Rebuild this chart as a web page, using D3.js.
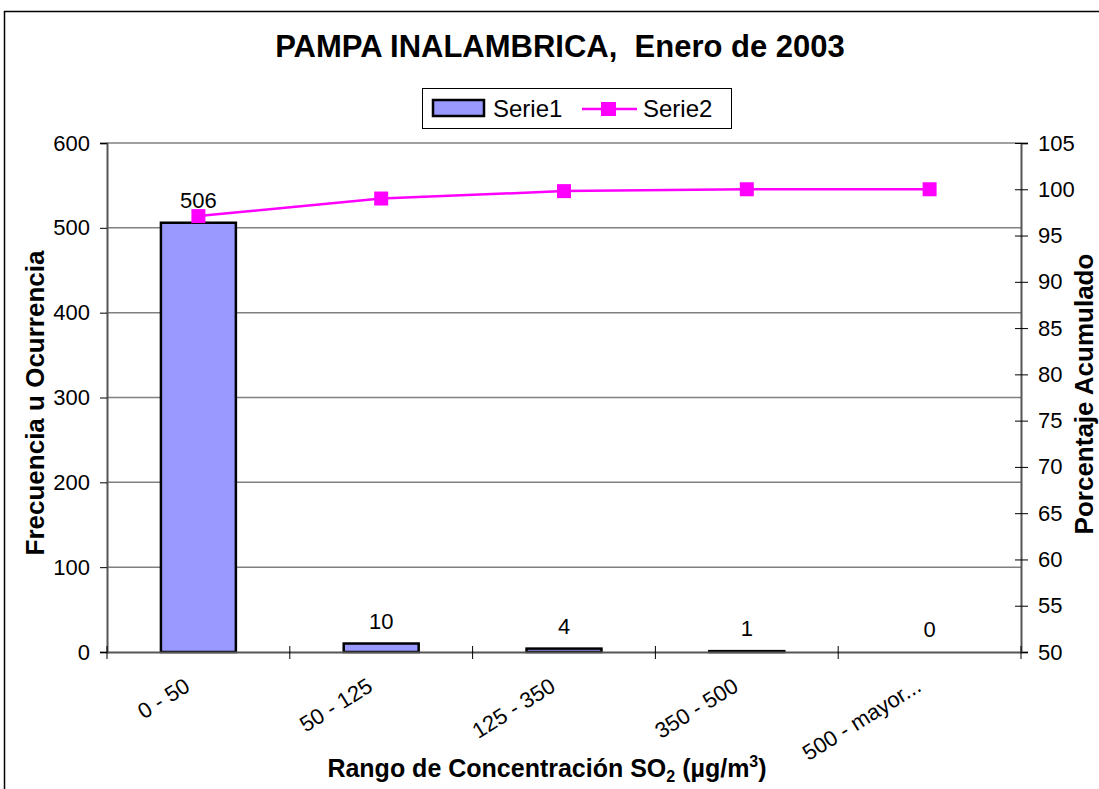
<!DOCTYPE html>
<html>
<head>
<meta charset="utf-8">
<script src="https://cdn.jsdelivr.net/npm/d3@7"></script>
<style>
  body { margin: 0; background: #fff; }
  text { font-family: "Liberation Sans", Arial, sans-serif; }
</style>
</head>
<body>
<svg width="1099" height="789"></svg>
<script>
// data
var categories = ["0 - 50", "50 - 125", "125 - 350", "350 - 500", "500 - mayor..."];
var serie1 = [506, 10, 4, 1, 0];
var serie2 = [97.1, 99.0, 99.8, 100, 100];
var leftTicks = [0, 100, 200, 300, 400, 500, 600];
var rightTicks = [50, 55, 60, 65, 70, 75, 80, 85, 90, 95, 100, 105];

var svg = d3.select("svg");

var margin = {left: 107, right: 1021, top: 143, bottom: 652};

// outer chart frame
svg.append("rect")
    .attr("x", 4.5).attr("y", 11.5)
    .attr("width", 1200).attr("height", 900)
    .attr("fill", "#fff")
    .attr("stroke", "#000")
    .attr("stroke-width", 1.5);

var x = d3.scaleBand()
    .domain(categories)
    .range([margin.left, margin.right]);

var yL = d3.scaleLinear().domain([0, 600]).range([margin.bottom, margin.top]);
var yR = d3.scaleLinear().domain([50, 105]).range([margin.bottom, margin.top]);

// gridlines
svg.append("g")
  .selectAll("line")
  .data(leftTicks.slice(1))
  .enter().append("line")
    .attr("x1", margin.left).attr("x2", margin.right)
    .attr("y1", function(d) { return yL(d); })
    .attr("y2", function(d) { return yL(d); })
    .attr("stroke", "#808080")
    .attr("stroke-width", 1.5);

// left axis
var gl = svg.append("g")
    .attr("transform", "translate(" + margin.left + ",0)")
    .call(d3.axisLeft(yL).tickValues(leftTicks).tickSize(7).tickPadding(10));
gl.select(".domain").attr("stroke", "#555").attr("stroke-width", 2);
gl.selectAll(".tick line").attr("stroke", "#000").attr("x2", -7);
gl.selectAll(".tick text").attr("font-size", 22).attr("fill", "#000");

// right axis
var gr = svg.append("g")
    .attr("transform", "translate(" + margin.right + ",0)")
    .call(d3.axisRight(yR).tickValues(rightTicks).tickSize(7).tickPadding(10));
gr.select(".domain").attr("stroke", "#555").attr("stroke-width", 2);
gr.selectAll(".tick line").attr("stroke", "#000").attr("x1", -6).attr("x2", 7);
gr.selectAll(".tick text").attr("font-size", 22).attr("fill", "#000");

// bars
var bw = x.bandwidth() * 0.41;
svg.append("g")
  .selectAll("rect")
  .data(serie1)
  .enter().append("rect")
    .attr("x", function(d, i) { return x(categories[i]) + x.bandwidth() / 2 - bw / 2; })
    .attr("y", function(d) { return yL(d); })
    .attr("width", bw)
    .attr("height", function(d) { return yL(0) - yL(d); })
    .attr("fill", "#9999ff")
    .attr("stroke", "#000")
    .attr("stroke-width", 2.5);

// bottom axis
var gb = svg.append("g")
    .attr("transform", "translate(0," + margin.bottom + ")")
    .call(d3.axisBottom(x).tickSize(0).tickFormat(""));
gb.select(".domain").attr("stroke", "#555").attr("stroke-width", 2);
gb.selectAll(".tick").remove();
svg.append("g")
  .selectAll("line")
  .data(categories.concat(["end"]))
  .enter().append("line")
    .attr("x1", function(d, i) { return margin.left + i * x.step(); })
    .attr("x2", function(d, i) { return margin.left + i * x.step(); })
    .attr("y1", margin.bottom - 6)
    .attr("y2", margin.bottom + 7)
    .attr("stroke", "#000");

// category labels, rotated
svg.append("g")
  .selectAll("text")
  .data(categories)
  .enter().append("text")
    .attr("transform", function(d) {
      return "translate(" + (x(d) + x.bandwidth() / 2 - 7) + ",690) rotate(-32)";
    })
    .attr("text-anchor", "end")
    .attr("font-size", 22)
    .text(function(d) { return d; });

// data labels
svg.append("g")
  .selectAll("text")
  .data(serie1)
  .enter().append("text")
    .attr("x", function(d, i) { return x(categories[i]) + x.bandwidth() / 2; })
    .attr("y", function(d) { return yL(d) - 15; })
    .attr("text-anchor", "middle")
    .attr("font-size", 22)
    .text(function(d) { return d; });

// line series
var line = d3.line()
    .x(function(d, i) { return x(categories[i]) + x.bandwidth() / 2; })
    .y(function(d) { return yR(d); });

svg.append("path")
    .datum(serie2)
    .attr("d", line)
    .attr("fill", "none")
    .attr("stroke", "#ff00ff")
    .attr("stroke-width", 2.5);

svg.append("g")
  .selectAll("rect")
  .data(serie2)
  .enter().append("rect")
    .attr("x", function(d, i) { return x(categories[i]) + x.bandwidth() / 2 - 7; })
    .attr("y", function(d) { return yR(d) - 7; })
    .attr("width", 14).attr("height", 14)
    .attr("fill", "#ff00ff");

// title
svg.append("text")
    .attr("x", 560).attr("y", 57)
    .attr("text-anchor", "middle")
    .attr("font-size", 31)
    .attr("font-weight", "bold")
    .attr("xml:space", "preserve")
    .text("PAMPA INALAMBRICA,  Enero de 2003");

// legend
var lg = svg.append("g");
lg.append("rect")
    .attr("x", 422.5).attr("y", 88.5)
    .attr("width", 309).attr("height", 40)
    .attr("fill", "#fff").attr("stroke", "#000");
lg.append("rect")
    .attr("x", 433).attr("y", 100)
    .attr("width", 51).attr("height", 16)
    .attr("fill", "#9999ff").attr("stroke", "#000").attr("stroke-width", 2.5);
lg.append("text")
    .attr("x", 493).attr("y", 117)
    .attr("font-size", 24)
    .text("Serie1");
lg.append("line")
    .attr("x1", 582).attr("x2", 637)
    .attr("y1", 109).attr("y2", 109)
    .attr("stroke", "#ff00ff").attr("stroke-width", 2.5);
lg.append("rect")
    .attr("x", 601).attr("y", 102)
    .attr("width", 15).attr("height", 14)
    .attr("fill", "#ff00ff");
lg.append("text")
    .attr("x", 643).attr("y", 117)
    .attr("font-size", 24)
    .text("Serie2");

// axis titles
svg.append("text")
    .attr("transform", "translate(44,403) rotate(-90)")
    .attr("text-anchor", "middle")
    .attr("font-size", 26)
    .attr("font-weight", "bold")
    .text("Frecuencia u Ocurrencia");

svg.append("text")
    .attr("transform", "translate(1093,394) rotate(-90)")
    .attr("text-anchor", "middle")
    .attr("font-size", 26)
    .attr("font-weight", "bold")
    .text("Porcentaje Acumulado");

var xt = svg.append("text")
    .attr("x", 547).attr("y", 777)
    .attr("text-anchor", "middle")
    .attr("font-size", 25)
    .attr("font-weight", "bold");
xt.append("tspan").text("Rango de Concentración SO");
xt.append("tspan").attr("font-size", 16).attr("dy", 5).text("2");
xt.append("tspan").attr("dy", -5).text(" (µg/m");
xt.append("tspan").attr("font-size", 16).attr("dy", -10).text("3");
xt.append("tspan").attr("dy", 10).text(")");
</script>
</body>
</html>
